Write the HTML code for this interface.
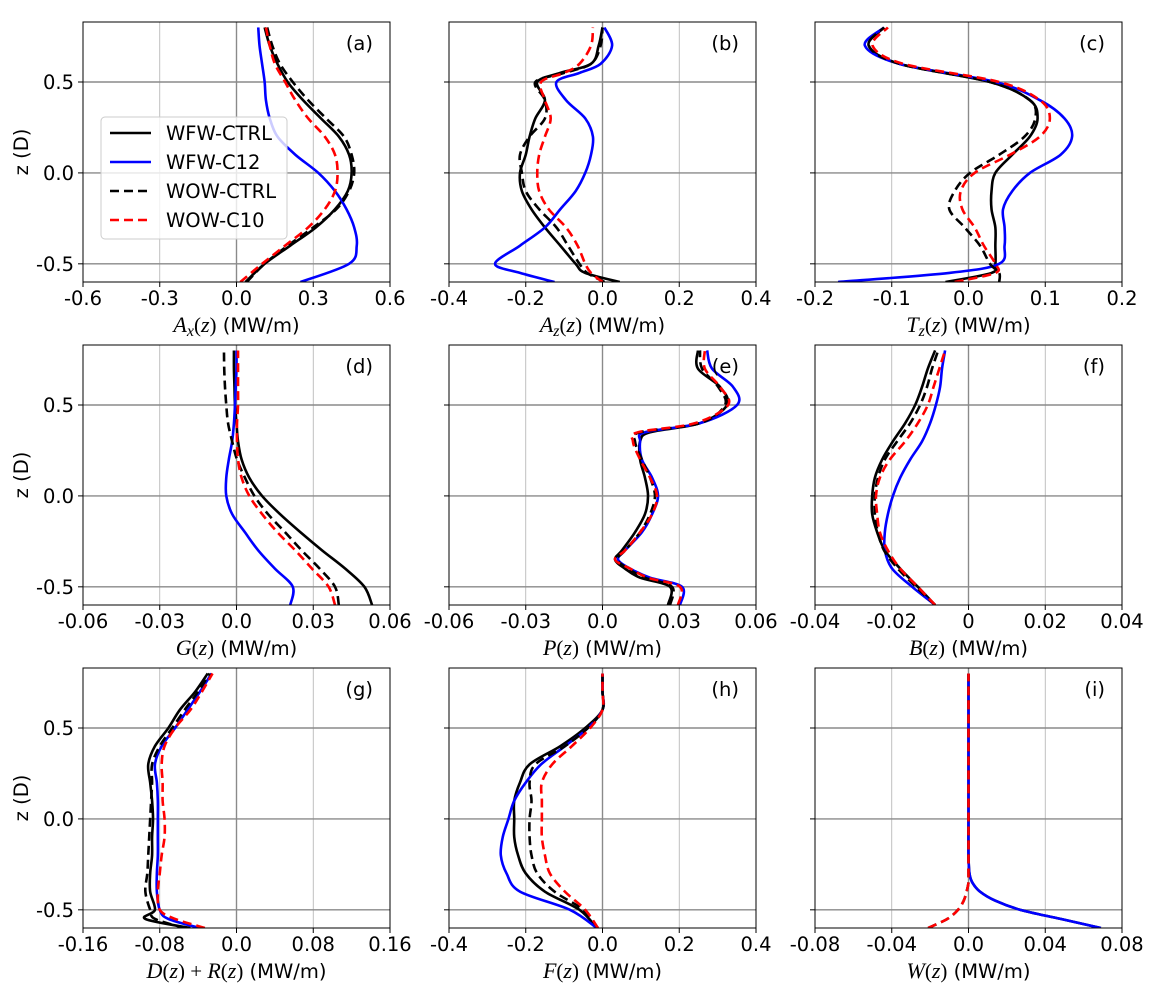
<!DOCTYPE html>
<html><head><meta charset="utf-8"><style>
html,body{margin:0;padding:0;background:#fff;}
svg{display:block;font-family:"DejaVu Sans","Liberation Sans",sans-serif;}
</style></head><body>
<svg id="fig" width="1158" height="990" viewBox="0 0 1158 990" xmlns="http://www.w3.org/2000/svg"></svg>
<script>
// ---- data ----
const seriesNames = ["WFW-CTRL","WFW-C12","WOW-CTRL","WOW-C10"];
const G = [-0.6,-0.5,-0.4,-0.3,-0.2,-0.1,0,0.1,0.2,0.3,0.4,0.5,0.6,0.7,0.8];
// (a)
const aZ = G;
const aWfwCtrl = [0.035,0.11,0.21,0.31,0.385,0.435,0.45,0.44,0.40,0.33,0.26,0.2,0.16,0.13,0.11];
const aWfwC12 = [0.25,0.44,0.47,0.46,0.43,0.385,0.32,0.23,0.16,0.13,0.115,0.11,0.10,0.09,0.085];
const aWowCtrl = [0.04,0.11,0.2,0.3,0.39,0.44,0.46,0.45,0.42,0.35,0.28,0.22,0.17,0.14,0.12];
const aWowC10 = [0.015,0.1,0.19,0.28,0.345,0.385,0.395,0.385,0.345,0.28,0.23,0.19,0.15,0.13,0.115];
// (b)
const bZ = [-0.6,-0.55,-0.5,-0.4,-0.3,-0.2,-0.1,0,0.1,0.2,0.3,0.4,0.5,0.55,0.6,0.7,0.8];
const bWfwCtrl = [0.045,-0.045,-0.07,-0.11,-0.15,-0.185,-0.21,-0.215,-0.2,-0.19,-0.175,-0.15,-0.17,-0.11,-0.03,-0.01,0.0];
const bWfwC12 = [-0.125,-0.215,-0.28,-0.215,-0.15,-0.11,-0.07,-0.045,-0.03,-0.025,-0.045,-0.095,-0.12,-0.06,-0.005,0.025,0.005];
const bWowCtrl = [0.005,-0.04,-0.06,-0.09,-0.12,-0.165,-0.2,-0.21,-0.215,-0.19,-0.15,-0.15,-0.175,-0.1,-0.03,-0.005,0.0];
const bWowC10 = [0.0,-0.03,-0.045,-0.065,-0.095,-0.14,-0.165,-0.17,-0.165,-0.15,-0.135,-0.15,-0.16,-0.1,-0.06,-0.03,-0.025];
// (c)
const cZ = [-0.6,-0.55,-0.5,-0.4,-0.3,-0.2,-0.1,0,0.1,0.2,0.3,0.4,0.5,0.6,0.7,0.8];
const cWfwCtrl = [-0.03,0.03,0.035,0.035,0.035,0.03,0.03,0.035,0.057,0.08,0.09,0.08,0.028,-0.09,-0.13,-0.11];
const cWfwC12 = [-0.17,-0.025,0.04,0.047,0.047,0.045,0.057,0.08,0.12,0.135,0.125,0.093,0.035,-0.09,-0.135,-0.11];
const cWowCtrl = [0.04,0.04,0.028,0.015,-0.005,-0.025,-0.018,0.002,0.04,0.073,0.087,0.08,0.028,-0.09,-0.13,-0.11];
const cWowC10 = [-0.018,0.035,0.035,0.02,0.008,-0.008,-0.01,0.008,0.054,0.093,0.106,0.093,0.04,-0.085,-0.125,-0.105];
// (d)
const dZ = G;
const dWfwCtrl = [0.053,0.05,0.0425,0.0335,0.025,0.017,0.01,0.005,0.002,0.0006,0,-0.0006,-0.0008,-0.001,-0.001];
const dWfwC12 = [0.021,0.022,0.015,0.0085,0.0033,-0.0017,-0.004,-0.004,-0.003,-0.0017,-0.001,-0.0006,-0.0003,0,0];
const dWowCtrl = [0.04,0.0385,0.0325,0.0255,0.019,0.0123,0.007,0.0033,0.0002,-0.0017,-0.0033,-0.004,-0.0045,-0.0048,-0.0049];
const dWowC10 = [0.0385,0.036,0.0295,0.023,0.016,0.01,0.005,0.002,0.0006,0.0002,0.0002,0.0006,0.0006,0.0006,0.0006];
// (e)
const eZ = [-0.6,-0.5,-0.45,-0.4,-0.35,-0.3,-0.2,-0.1,0,0.1,0.2,0.3,0.35,0.4,0.5,0.6,0.7,0.8];
const eWfwCtrl = [0.0256,0.0264,0.0147,0.0088,0.0049,0.0076,0.0127,0.0166,0.0178,0.0166,0.0147,0.0147,0.0186,0.0381,0.0487,0.0459,0.0373,0.0373];
const eWfwC12 = [0.0303,0.0311,0.0186,0.0108,0.0061,0.0088,0.0154,0.0194,0.0217,0.0194,0.0154,0.0147,0.0166,0.0381,0.0526,0.051,0.0428,0.0409];
const eWowCtrl = [0.0264,0.0272,0.0166,0.01,0.0057,0.0088,0.0147,0.0186,0.0205,0.0186,0.0154,0.0127,0.0147,0.0381,0.0479,0.0452,0.0389,0.0381];
const eWowC10 = [0.0295,0.0303,0.0178,0.0108,0.0049,0.0088,0.0147,0.0194,0.0213,0.0186,0.0147,0.0119,0.0139,0.0362,0.0491,0.0459,0.04,0.04];
// (f)
const fZ = G;
const fWfwCtrl = [-0.0087,-0.0132,-0.0178,-0.0218,-0.0238,-0.0251,-0.0251,-0.0244,-0.0225,-0.0197,-0.0165,-0.0139,-0.0121,-0.0106,-0.0087];
const fWfwC12 = [-0.0087,-0.0147,-0.0199,-0.0218,-0.0218,-0.021,-0.0197,-0.0178,-0.0152,-0.0121,-0.01,-0.0085,-0.0074,-0.0069,-0.0061];
const fWowCtrl = [-0.0087,-0.0137,-0.0184,-0.022,-0.0236,-0.0244,-0.0244,-0.0236,-0.0218,-0.0186,-0.0152,-0.0126,-0.0108,-0.0095,-0.0079];
const fWowC10 = [-0.0087,-0.0132,-0.0178,-0.021,-0.0231,-0.0238,-0.0241,-0.0231,-0.0205,-0.0165,-0.0132,-0.0106,-0.0091,-0.0076,-0.0061];
// (g)
const gZ = [-0.6,-0.55,-0.5,-0.4,-0.3,-0.2,-0.1,0,0.1,0.2,0.3,0.4,0.5,0.6,0.7,0.8];
const gWfwCtrl = [-0.048,-0.095,-0.085,-0.09,-0.09,-0.088,-0.088,-0.087,-0.088,-0.09,-0.092,-0.085,-0.071,-0.059,-0.043,-0.03];
const gWfwC12 = [-0.038,-0.071,-0.08,-0.083,-0.083,-0.082,-0.082,-0.082,-0.082,-0.083,-0.085,-0.078,-0.064,-0.051,-0.038,-0.026];
const gWowCtrl = [-0.054,-0.085,-0.09,-0.095,-0.093,-0.092,-0.091,-0.09,-0.089,-0.088,-0.088,-0.08,-0.067,-0.054,-0.04,-0.028];
const gWowC10 = [-0.033,-0.064,-0.08,-0.082,-0.08,-0.078,-0.075,-0.075,-0.077,-0.077,-0.078,-0.075,-0.064,-0.048,-0.036,-0.025];
// (h)
const hZ = G;
const hWfwCtrl = [-0.015,-0.06,-0.15,-0.2,-0.22,-0.23,-0.23,-0.23,-0.215,-0.19,-0.11,-0.045,0,0,0];
const hWfwC12 = [-0.015,-0.085,-0.215,-0.25,-0.265,-0.26,-0.245,-0.23,-0.2,-0.16,-0.098,-0.038,0,0,0];
const hWowCtrl = [-0.012,-0.05,-0.125,-0.17,-0.185,-0.19,-0.19,-0.185,-0.19,-0.175,-0.098,-0.038,0,0,0];
const hWowC10 = [-0.012,-0.045,-0.098,-0.137,-0.15,-0.158,-0.158,-0.158,-0.158,-0.131,-0.08,-0.032,0,0,0];
// (i)
const iZ = [-0.6,-0.55,-0.5,-0.45,-0.4,-0.35,-0.3,-0.2,0,0.4,0.8];
const iWfwCtrl = [0.069,0.048,0.027,0.014,0.006,0.002,0.0005,0,0,0,0];
const iWfwC12 = [0.069,0.048,0.027,0.014,0.006,0.002,0.0005,0,0,0,0];
const iWowCtrl = [-0.021,-0.011,-0.0055,-0.0025,-0.001,0,0,0,0,0,0];
const iWowC10 = [-0.021,-0.011,-0.0055,-0.0025,-0.001,0,0,0,0,0,0];
// tick labels
const xTicksA = [-0.6,-0.3,0,0.3,0.6]; const xLabA = ["-0.6","-0.3","0.0","0.3","0.6"];
const xTicksB = [-0.4,-0.2,0,0.2,0.4]; const xLabB = ["-0.4","-0.2","0.0","0.2","0.4"];
const xTicksC = [-0.2,-0.1,0,0.1,0.2]; const xLabC = ["-0.2","-0.1","0.0","0.1","0.2"];
const xTicksD = [-0.06,-0.03,0,0.03,0.06]; const xLabD = ["-0.06","-0.03","0.0","0.03","0.06"];
const xTicksF = [-0.04,-0.02,0,0.02,0.04]; const xLabF = ["-0.04","-0.02","0","0.02","0.04"];
const xTicksG = [-0.16,-0.08,0,0.08,0.16]; const xLabG = ["-0.16","-0.08","0.0","0.08","0.16"];
const xTicksI = [-0.08,-0.04,0,0.04,0.08]; const xLabI = ["-0.08","-0.04","0.0","0.04","0.08"];
const yTicks = [-0.5,0,0.5]; const yLab = ["-0.5","0.0","0.5"];

const NS="http://www.w3.org/2000/svg";
const svg=document.getElementById('fig');
function mk(tag,attrs,parent){const e=document.createElementNS(NS,tag);for(const k in attrs)e.setAttribute(k,attrs[k]);(parent||svg).appendChild(e);return e;}

const FS=19.5;
const colors=["#000","#0000ff","#000","#ff0000"];
const dashes=["none","none","9,5","9,5"];
const colLeft=[83,449,815], rowTop=[22,345,668], PW=307, PH=260;
const yMin=-0.6,yMax=0.83;

const panels=[
 {id:"a",z:aZ,s:[aWfwCtrl,aWfwC12,aWowCtrl,aWowC10],xt:xTicksA,xl:xLabA,title:["A","x"]},
 {id:"b",z:bZ,s:[bWfwCtrl,bWfwC12,bWowCtrl,bWowC10],xt:xTicksB,xl:xLabB,title:["A","z"]},
 {id:"c",z:cZ,s:[cWfwCtrl,cWfwC12,cWowCtrl,cWowC10],xt:xTicksC,xl:xLabC,title:["T","z"]},
 {id:"d",z:dZ,s:[dWfwCtrl,dWfwC12,dWowCtrl,dWowC10],xt:xTicksD,xl:xLabD,title:["G",""]},
 {id:"e",z:eZ,s:[eWfwCtrl,eWfwC12,eWowCtrl,eWowC10],xt:xTicksD,xl:xLabD,title:["P",""]},
 {id:"f",z:fZ,s:[fWfwCtrl,fWfwC12,fWowCtrl,fWowC10],xt:xTicksF,xl:xLabF,title:["B",""]},
 {id:"g",z:gZ,s:[gWfwCtrl,gWfwC12,gWowCtrl,gWowC10],xt:xTicksG,xl:xLabG,title:["DR",""]},
 {id:"h",z:hZ,s:[hWfwCtrl,hWfwC12,hWowCtrl,hWowC10],xt:xTicksB,xl:xLabB,title:["F",""]},
 {id:"i",z:iZ,s:[iWfwCtrl,iWfwC12,iWowCtrl,iWowC10],xt:xTicksI,xl:xLabI,title:["W",""]}
];

function smoothPath(pts){
  let d="M"+pts[0][0].toFixed(2)+","+pts[0][1].toFixed(2);
  for(let i=0;i<pts.length-1;i++){
    const p0=pts[Math.max(0,i-1)],p1=pts[i],p2=pts[i+1],p3=pts[Math.min(pts.length-1,i+2)];
    const c1=[p1[0]+(p2[0]-p0[0])/6,p1[1]+(p2[1]-p0[1])/6];
    const c2=[p2[0]-(p3[0]-p1[0])/6,p2[1]-(p3[1]-p1[1])/6];
    d+=" C"+c1[0].toFixed(2)+","+c1[1].toFixed(2)+" "+c2[0].toFixed(2)+","+c2[1].toFixed(2)+" "+p2[0].toFixed(2)+","+p2[1].toFixed(2);
  }
  return d;
}

panels.forEach((p,idx)=>{
  const r=Math.floor(idx/3), c=idx%3;
  const L=colLeft[c], T=rowTop[r], B=T+PH, R=L+PW;
  const xmin=p.xt[0], xmax=p.xt[p.xt.length-1];
  const X=v=>L+(v-xmin)/(xmax-xmin)*PW;
  const Y=v=>B-(v-yMin)/(yMax-yMin)*PH;
  const g=mk('g',{});
  
  
  const cid='clip'+p.id;
  const cp=mk('clipPath',{id:cid},g); mk('rect',{x:L,y:T,width:PW,height:PH},cp);
  p.xt.forEach((t,k)=>{
    const ln=mk('line',{x1:X(t),x2:X(t),y1:T,y2:B,stroke:t===0?'#8a8a8a':'#b0b0b0','stroke-width':t===0?1.4:0.8},g);
    
    
    const tk=mk('line',{x1:X(t),x2:X(t),y1:B,y2:B+5,stroke:'#000','stroke-width':1},g);
    
    
    const tl=mk('text',{x:X(t),y:B+23,'text-anchor':'middle','font-size':FS,fill:'#000'},g);
    tl.textContent=p.xl[k];
    
    
  });
  yTicks.forEach((t,k)=>{
    const ln=mk('line',{x1:L,x2:R,y1:Y(t),y2:Y(t),stroke:'#8a8a8a','stroke-width':1.4},g);
    
    
    const tk=mk('line',{x1:L-5,x2:L,y1:Y(t),y2:Y(t),stroke:'#000','stroke-width':1},g);
    
    
    if(c===0){
      const tl=mk('text',{x:L-9,y:Y(t)+7,'text-anchor':'end','font-size':FS,fill:'#000'},g);
      tl.textContent=yLab[k];
      
      
    }
  });
  [0,1,2,3].forEach(si=>{
    const pts=p.z.map((z,j)=>[X(p.s[si][j]),Y(z)]);
    const path=mk('path',{d:smoothPath(pts),fill:'none',stroke:colors[si],'stroke-width':2.6,'stroke-dasharray':dashes[si],'clip-path':'url(#'+cid+')'},g);
    
    
  });
  const fr=mk('rect',{x:L,y:T,width:PW,height:PH,fill:'none',stroke:'#000','stroke-width':1},g);
  
  
  const pl=mk('text',{x:R-17,y:T+28,'text-anchor':'end','font-size':FS,fill:'#000'},g);
  pl.textContent='('+p.id+')';
  
  
  const xt=mk('text',{x:L+PW/2,y:B+50,'text-anchor':'middle','font-size':FS,fill:'#000'},g);
  
  
  const sc='font-family="Liberation Serif,serif" font-style="italic" font-size="22"';
  const rp='font-family="Liberation Serif,serif" font-size="21"';
  let html;
  if(p.title[0]==="DR"){
    html='<tspan '+sc+'>D</tspan><tspan '+rp+'>(</tspan><tspan '+sc+'>z</tspan><tspan '+rp+'>) + </tspan><tspan '+sc+'>R</tspan><tspan '+rp+'>(</tspan><tspan '+sc+'>z</tspan><tspan '+rp+'>)</tspan><tspan> (MW/m)</tspan>';
  } else if(p.title[1]){
    html='<tspan '+sc+'>'+p.title[0]+'</tspan><tspan font-family="Liberation Serif,serif" font-style="italic" font-size="16" dy="4">'+p.title[1]+'</tspan><tspan '+rp+' dy="-4">(</tspan><tspan '+sc+'>z</tspan><tspan '+rp+'>)</tspan><tspan> (MW/m)</tspan>';
  } else {
    html='<tspan '+sc+'>'+p.title[0]+'</tspan><tspan '+rp+'>(</tspan><tspan '+sc+'>z</tspan><tspan '+rp+'>)</tspan><tspan> (MW/m)</tspan>';
  }
  xt.innerHTML=html;
  if(c===0){
    const yt=mk('text',{x:0,y:0,'text-anchor':'middle','font-size':FS,fill:'#000',transform:'translate(28,'+(T+PH/2)+') rotate(-90)'},g);
    yt.textContent='z (D)';
    
    
  }
});

// legend
const lg=mk('g',{});


const lb=mk('rect',{x:101,y:117,width:186,height:122,rx:4,fill:'#fff','fill-opacity':0.8,stroke:'#cccccc','stroke-width':1},lg);


seriesNames.forEach((n,i)=>{
  const yy=133+i*29;
  const e=mk('g',{},lg);
  
  
  mk('line',{x1:110,x2:151,y1:yy,y2:yy,stroke:colors[i],'stroke-width':2.6,'stroke-dasharray':dashes[i]},e);
  const t=mk('text',{x:166,y:yy+7,'font-size':FS,fill:'#000'},e);
  t.textContent=n;
});
</script>
</body></html>
